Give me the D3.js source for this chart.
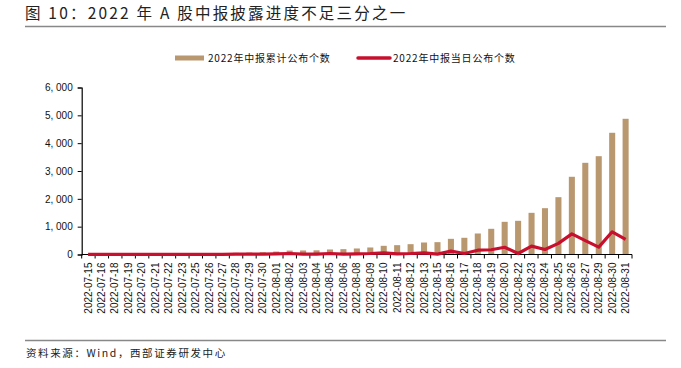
<!DOCTYPE html>
<html>
<head>
<meta charset="utf-8">
<script src="https://cdn.jsdelivr.net/npm/d3@7"></script>
<style>
  body { margin: 0; background: #fff; }
  svg text { font-family: "Liberation Sans", Arial, "Noto Sans CJK SC", sans-serif; }
  .cjk { font-family: "Noto Sans CJK SC", sans-serif; }
</style>
</head>
<body>
<div id="chart"></div>
<script>
// 日期（横轴类目）
const dates = [
  '2022-07-15', '2022-07-16', '2022-07-18', '2022-07-19', '2022-07-20', '2022-07-21',
  '2022-07-22', '2022-07-23', '2022-07-25', '2022-07-26', '2022-07-27', '2022-07-28',
  '2022-07-29', '2022-07-30', '2022-08-01', '2022-08-02', '2022-08-03', '2022-08-04',
  '2022-08-05', '2022-08-06', '2022-08-08', '2022-08-09', '2022-08-10', '2022-08-11',
  '2022-08-12', '2022-08-13', '2022-08-15', '2022-08-16', '2022-08-17', '2022-08-18',
  '2022-08-19', '2022-08-20', '2022-08-22', '2022-08-23', '2022-08-24', '2022-08-25',
  '2022-08-26', '2022-08-27', '2022-08-29', '2022-08-30', '2022-08-31'
]

// 2022年中报累计公布个数（柱）
const cumulative = [
  5, 8, 12, 15, 18, 22, 26, 28, 35, 42, 50, 60, 70, 80, 105, 140, 145, 150,
  180, 192, 216, 252, 312, 335, 371, 431, 443, 563, 600, 755, 923, 1174, 1210,
  1497, 1664, 2060, 2792, 3294, 3532, 4373, 4876
]

// 2022年中报当日公布个数（线）
const daily = [
  5, 3, 4, 3, 3, 4, 4, 2, 7, 7, 8, 10, 10, 10, 25, 36, 12, 12, 36, 12, 24, 36,
  60, 23, 36, 60, 12, 120, 37, 155, 170, 260, 35, 300, 180, 400, 740, 500, 265,
  815, 540
]

const yTicks = [0, 1000, 2000, 3000, 4000, 5000, 6000]

const seriesNames = ['2022年中报累计公布个数', '2022年中报当日公布个数']

const config = {
  width: 681,
  height: 368,
  barColor: '#b9976f',
  lineColor: '#c8102e',
  plot: { left: 81.7, right: 632, top: 87.5, bottom: 254.5 },
}

const svg = d3.select('#chart')
  .append('svg')
  .attr('width', config.width)
  .attr('height', config.height)

// 标题与分隔线
svg.append('text')
  .attr('class', 'cjk')
  .attr('x', 25)
  .attr('y', 19)
  .attr('font-size', 15.5)
  .attr('letter-spacing', 2.2)
  .attr('fill', '#222')
  .text('图 10：2022 年 A 股中报披露进度不足三分之一')

svg.append('line')
  .attr('x1', 25).attr('x2', 666)
  .attr('y1', 26.5).attr('y2', 26.5)
  .attr('stroke', '#888').attr('stroke-width', 1.5)

svg.append('line')
  .attr('x1', 25).attr('x2', 666)
  .attr('y1', 340.5).attr('y2', 340.5)
  .attr('stroke', '#888').attr('stroke-width', 1.5)

svg.append('text')
  .attr('class', 'cjk')
  .attr('x', 26)
  .attr('y', 357)
  .attr('font-size', 10.5)
  .attr('letter-spacing', 1.6)
  .attr('fill', '#222')
  .text('资料来源：Wind，西部证券研发中心')

// 比例尺
const x = d3.scaleBand()
  .domain(dates)
  .range([config.plot.left, config.plot.right])
  .paddingInner(0.55)
  .paddingOuter(0.25)

const y = d3.scaleLinear()
  .domain([0, 6000])
  .range([config.plot.bottom, config.plot.top])

// Y轴
const yAxis = svg.append('g')
  .attr('transform', `translate(${config.plot.left},0)`)
  .call(d3.axisLeft(y).tickValues(yTicks).tickSize(4).tickFormat(d3.format(',')))
yAxis.select('.domain').attr('stroke', '#000').attr('stroke-width', 1.2)
yAxis.selectAll('.tick line').attr('stroke', '#000')
yAxis.selectAll('.tick text')
  .attr('font-size', 10)
  .attr('fill', '#111')
  .attr('x', -9)
  .text(d => d3.format(',')(d).replace(',', ', '))

// 柱子
svg.append('g')
  .selectAll('rect')
  .data(dates)
  .enter()
  .append('rect')
  .attr('x', d => x(d))
  .attr('width', x.bandwidth())
  .attr('y', (d, i) => y(cumulative[i]))
  .attr('height', (d, i) => y(0) - y(cumulative[i]))
  .attr('fill', config.barColor)

// X轴（刻度位于类目之间）
const xAxis = svg.append('g')
  .attr('transform', `translate(0,${config.plot.bottom})`)
xAxis.append('line')
  .attr('x1', config.plot.left).attr('x2', config.plot.right)
  .attr('y1', 0).attr('y2', 0)
  .attr('stroke', '#000').attr('stroke-width', 1.2)
xAxis.selectAll('.xtick')
  .data(d3.range(dates.length + 1))
  .enter()
  .append('line')
  .attr('x1', i => config.plot.left + i * (config.plot.right - config.plot.left) / dates.length)
  .attr('x2', i => config.plot.left + i * (config.plot.right - config.plot.left) / dates.length)
  .attr('y1', 0).attr('y2', 4)
  .attr('stroke', '#000')
xAxis.selectAll('.xlabel')
  .data(dates)
  .enter()
  .append('text')
  .attr('transform', d => `translate(${x(d) + x.bandwidth() / 2 + 3.5},8) rotate(-90)`)
  .attr('text-anchor', 'end')
  .attr('font-size', 10)
  .attr('fill', '#111')
  .text(d => d)

// 折线
const line = d3.line()
  .x((d, i) => x(dates[i]) + x.bandwidth() / 2)
  .y(d => y(d))

svg.append('path')
  .datum(daily)
  .attr('d', line)
  .attr('fill', 'none')
  .attr('stroke', config.lineColor)
  .attr('stroke-width', 3.2)
  .attr('stroke-linejoin', 'round')
  .attr('stroke-linecap', 'butt')

// 图例
const legend = svg.append('g').attr('transform', 'translate(0,58)')
legend.append('rect')
  .attr('x', 175).attr('y', -2.5).attr('width', 29).attr('height', 5)
  .attr('fill', config.barColor)
legend.append('text')
  .attr('class', 'cjk')
  .attr('x', 208).attr('y', 3.5)
  .attr('font-size', 10)
  .attr('letter-spacing', 0.8)
  .attr('fill', '#111')
  .text(seriesNames[0])
legend.append('line')
  .attr('x1', 358).attr('x2', 390).attr('y1', 0).attr('y2', 0)
  .attr('stroke', config.lineColor).attr('stroke-width', 3.5)
  .attr('stroke-linecap', 'round')
legend.append('text')
  .attr('class', 'cjk')
  .attr('x', 393).attr('y', 3.5)
  .attr('font-size', 10)
  .attr('letter-spacing', 0.8)
  .attr('fill', '#111')
  .text(seriesNames[1])
</script>
</body>
</html>
